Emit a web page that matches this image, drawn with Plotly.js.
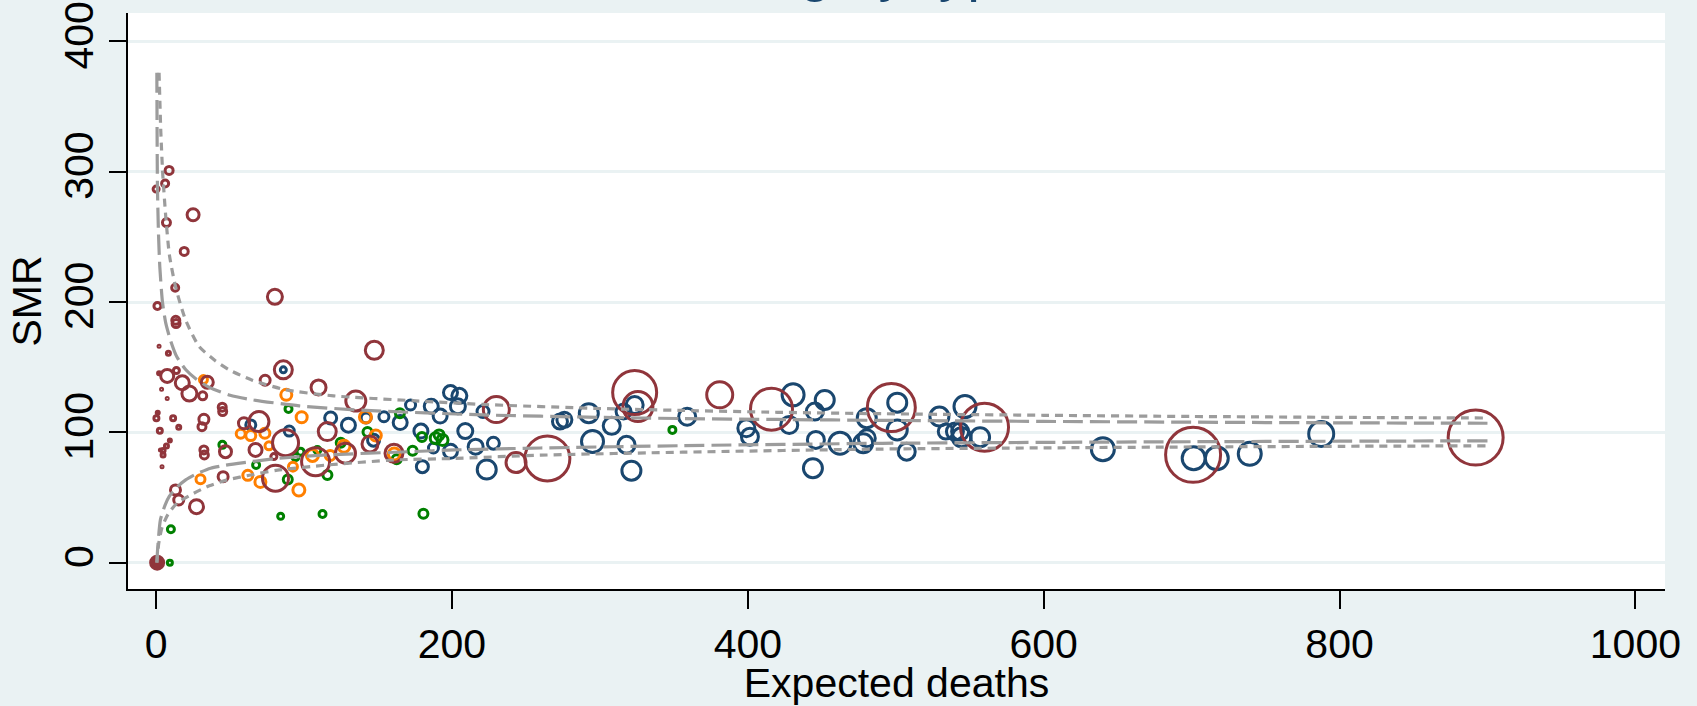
<!DOCTYPE html>
<html>
<head>
<meta charset="utf-8">
<script src="https://cdn.plot.ly/plotly-3.0.1.min.js"></script>
<style>
html,body{margin:0;padding:0;background:#EAF2F3;}
#chart{width:1697px;height:706px;}
</style>
</head>
<body>
<div id="chart"></div>
<script>
// ---------- data ----------
// Navy group: expected deaths, SMR, bubble diameter (px)
const navyE = [64, 86, 90, 118, 130, 142, 154, 147, 165, 172, 179, 180, 186, 187.5, 192, 199, 199, 205, 204, 209, 216, 221, 223.5, 228, 273, 276, 292.5, 295, 308, 316, 318, 321.3, 323.5, 359, 399, 401.4, 428, 430.6, 444, 445.3, 446, 452, 462.3, 478, 480.4, 480.4, 501, 501, 507.4, 529.5, 533.8, 540, 543.5, 544.5, 546.8, 557, 640, 701.4, 717, 739.3, 787.6];
const navySMR = [105.7, 148, 101, 111, 105.5, 111, 112, 94, 107.5, 121, 101, 73.7, 120, 88, 112.5, 130.5, 85.5, 128, 120, 101, 89, 116, 71.5, 91.7, 108.3, 109.6, 114.7, 93, 105, 116, 90.4, 70.6, 121, 112, 103.2, 96.7, 105.7, 128.8, 72.5, 116, 94.2, 124.9, 91.7, 91.7, 110.9, 95.5, 122.8, 101.9, 85.2, 112.1, 100.6, 100.6, 100.6, 96.3, 119.8, 96.3, 87, 80.1, 80.1, 83.5, 98.8];
const navyW = [13, 9, 13, 15, 17, 13, 13, 15, 17, 13, 17, 15, 17, 13, 17, 17, 17, 18, 18, 18, 18, 15, 22, 15, 18, 18, 22, 25, 20, 18, 20, 22, 20, 20, 20, 20, 20, 25, 22, 20, 20, 22, 25, 22, 22, 20, 22, 23, 20, 22, 18, 20, 20, 22, 25, 22, 26, 26, 26, 26, 28];

// Green group
const greenE = [89.5, 44.8, 67.6, 89, 115.8, 84.2, 112.5, 180.7, 10, 9.3, 97.6, 109, 124.8, 142.9, 164.8, 173.4, 179.7, 189, 193.6, 191.3, 162.6, 94.2, 349];
const greenSMR = [118, 90.4, 75, 63.8, 67.3, 35.6, 37.3, 37.6, 25.6, 0, 85.2, 86.5, 92.1, 100.2, 114.7, 85.8, 96.5, 95.5, 94.2, 98, 79.4, 81, 101.9];
const greenW = [10, 10, 10, 12, 12, 9, 10, 12, 10, 8, 10, 10, 12, 12, 12, 12, 12, 14, 14, 13, 12, 10, 10];

// Orange group
const orangeE = [32, 88, 98.4, 57.2, 64, 73.5, 76.3, 30, 62, 70.5, 96.5, 92.5, 105.7, 117.7, 127, 141.5, 148.5, 161];
const orangeSMR = [140.5, 128.8, 111.6, 99, 97.5, 99.3, 89.7, 64, 67, 62, 55.8, 73.7, 82.3, 82.3, 89.3, 111.8, 97.6, 83.4];
const orangeW = [11, 14, 14, 12, 13, 13, 11, 12, 13, 14, 15, 12, 15, 13, 15, 15, 14, 15];

// Maroon group
const maroonE = [0.7, 0, 8.8, 6.1, 25, 7, 19, 12.9, 80.3, 0.9, 13.3, 13.5, 2, 8.3, 147.5, 86, 13.7, 2, 7.5, 17.7, 22.5, 31.5, 3.7, 7.5, 34.6, 73.7, 109.8, 135, 1.1, 0.2, 11.5, 15.3, 2.5, 9.3, 7, 4.7, 2.9, 4.7, 4, 32.3, 31, 44.7, 45, 32.3, 32.6, 46.9, 59.4, 69.5, 67.2, 45.3, 13.1, 15.3, 27.3, 87.5, 80.7, 79.6, 115.7, 107.8, 128, 144.6, 160.8, 230, 264.5, 243.3, 323.5, 325.7, 381, 416, 497, 560, 701, 892];
const maroonSMR = [0, 286.7, 301, 291, 267, 261, 238.8, 211, 204, 197, 186, 183.5, 166, 160.7, 163, 148, 147.5, 145.4, 143.3, 138, 129.8, 128, 133, 126, 138.5, 140, 134.5, 124, 115, 110.8, 110.8, 104, 101.3, 93.7, 89.6, 86, 86.5, 82.7, 73.7, 110, 104.4, 119.3, 116, 86.5, 82.7, 85.2, 107, 108.3, 86.5, 66, 55.8, 48.1, 43, 92.1, 64.8, 81.4, 100.6, 77.5, 84, 91.1, 84, 117.5, 80, 76.8, 130.5, 119.8, 128.8, 117.8, 119, 104, 82.8, 96];
const maroonW = [16, 9, 11, 10, 15, 11, 11, 10, 18, 10, 11, 11, 5, 7, 21, 21, 9, 6, 16, 17, 18, 11, 5, 5, 15, 13, 18, 23, 6, 8, 8, 7, 8, 6, 7, 7, 5, 7, 5, 13, 11, 11, 11, 11, 11, 15, 14, 23, 16, 13, 13, 13, 17, 29, 29, 9, 21, 31, 23, 19, 21, 29, 48, 23, 47, 33, 29, 45, 51, 51, 58, 58];

// Control limits
const up998E = [2, 3.2, 4.5, 6.5, 9, 13.3, 20, 29, 40, 49.4, 65, 87.8, 120, 173.5, 220.8, 300, 356, 420, 491, 600, 700, 800, 900];
const up998 = [376, 330, 298, 266, 236, 211, 186, 166, 155, 148, 140, 132.6, 128, 124.3, 121.4, 118.3, 116.8, 115.4, 114.3, 113.1, 112.2, 111.5, 111];
const up95E = [0.5, 0.9, 1.6, 2.5, 4.3, 6.5, 9.9, 14, 20.1, 27, 35.9, 50, 65, 96.8, 142, 220.8, 300, 356, 420, 491, 600, 700, 800, 900];
const up95 = [376, 289, 253, 227, 200, 184, 170, 158, 148, 141, 134.5, 128.5, 125, 120.3, 116.8, 113.4, 111.5, 110.6, 109.9, 109.2, 108.4, 107.8, 107.3, 107];
const lo95E = [0.5, 1, 2.9, 6, 9, 14.2, 20, 27, 36.8, 47, 59.4, 82, 116, 172, 201.5, 260, 356, 491, 600, 700, 800, 900];
const lo95 = [0, 10, 32.8, 44, 51, 58, 63.5, 68, 72.5, 74.8, 76.8, 80, 82.7, 85.2, 86.5, 88, 89.8, 91.6, 92.3, 92.8, 93.2, 93.5];
const lo998E = [0.5, 1.8, 4, 8, 14.2, 25.5, 36, 48, 65, 82, 116, 161, 201.5, 260, 356, 491, 600, 700, 800, 900];
const lo998 = [0, 15, 27, 37, 45.8, 53.3, 59, 63.5, 67.5, 71, 75, 78.8, 80, 82.5, 84.8, 87.2, 88.1, 88.8, 89.3, 89.7];

const xTicks = [0, 200, 400, 600, 800, 1000];
const yTicks = [0, 100, 200, 300, 400];

// ---------- styling ----------
const FONT = 'Liberation Sans, Arial, sans-serif';
const LW = 3;
const sz = a => a.map(d => Math.max(d - LW, 1.5));

function bubbles(E, S, W, color, symbols) {
  return {
    type: 'scatter', mode: 'markers', x: E, y: S, hoverinfo: 'skip',
    marker: {
      symbol: symbols || 'circle-open',
      size: sz(W), color: color, opacity: 1,
      line: {color: color, width: LW}
    }
  };
}
function limit(E, S, dash) {
  return {
    type: 'scatter', mode: 'lines', x: E, y: S, hoverinfo: 'skip',
    line: {color: '#9C9C9C', width: 3.2, dash: dash, shape: 'spline', smoothing: 0.6}
  };
}

const maroonSym = maroonE.map((e, i) => (i === 0 ? 'circle' : 'circle-open'));

const data = [
  bubbles(navyE, navySMR, navyW, '#1a476f'),
  bubbles(greenE, greenSMR, greenW, '#008000'),
  bubbles(orangeE, orangeSMR, orangeW, '#ff7f00'),
  bubbles(maroonE, maroonSMR, maroonW, '#90353b', maroonSym),
  limit(up998E, up998, '8px,6px'),
  limit(lo998E, lo998, '8px,6px'),
  limit(up95E, up95, '20px,7px'),
  limit(lo95E, lo95, '20px,7px')
];

const axisCommon = {
  showline: true, linecolor: '#000', linewidth: 2,
  ticks: 'outside', tickcolor: '#000', tickwidth: 2,
  zeroline: false,
  tickfont: {family: FONT, size: 41, color: '#000'}
};

const layout = {
  width: 1697, height: 706,
  paper_bgcolor: '#EAF2F3', plot_bgcolor: '#FFFFFF',
  margin: {l: 128, r: 32, t: 13, b: 117},
  showlegend: false,
  title: {
    text: 'Rating by type',
    font: {family: FONT, size: 57, color: '#1a476f'},
    x: 0.5, xref: 'container', xanchor: 'center',
    y: 1, yref: 'container', yanchor: 'bottom', pad: {b: 10.5}
  },
  xaxis: Object.assign({}, axisCommon, {
    range: [-19, 1020], tickvals: xTicks, ticklen: 18, showgrid: false,
    title: {text: 'Expected deaths', font: {family: FONT, size: 41, color: '#000'}, standoff: 6}
  }),
  yaxis: Object.assign({}, axisCommon, {
    range: [-20.2, 421.8], tickvals: yTicks, ticklen: 17, tickangle: -90,
    showgrid: true, gridcolor: '#EAF2F3', gridwidth: 3,
    title: {text: 'SMR', font: {family: FONT, size: 41, color: '#000'}, standoff: 1}
  })
};

Plotly.newPlot('chart', data, layout, {displayModeBar: false, staticPlot: true});
</script>
</body>
</html>
